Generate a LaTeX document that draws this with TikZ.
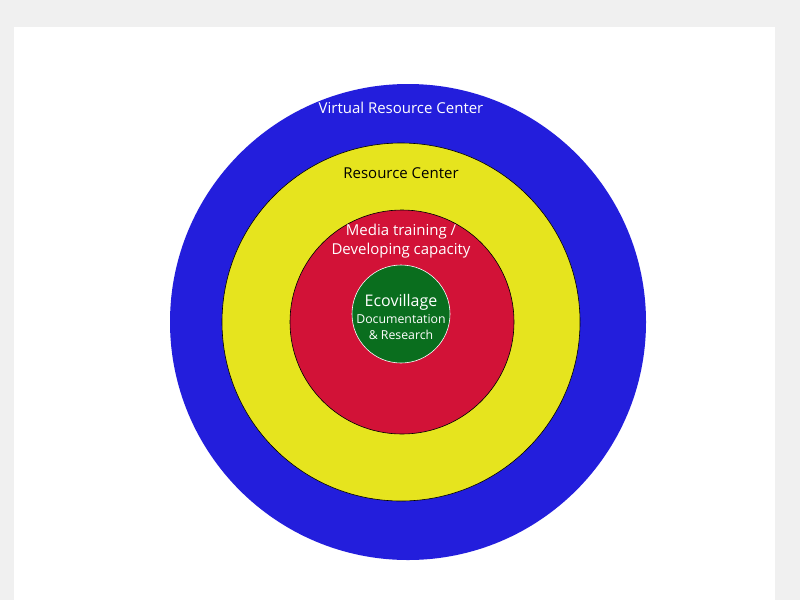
\documentclass[tikz,border=0pt]{standalone}
\usepackage{fontspec}
\setmainfont{Open Sans}
\begin{document}
\begin{tikzpicture}[x=1pt,y=-1pt,
 ring/.style={circle,draw=black,line width=0.6pt,inner sep=0pt},
 lbl/.style={text=#1,align=center,font=\fontsize{15}{19}\selectfont}]
\useasboundingbox (0,0) rectangle (800,600);
\fill[gray!12] (0,0) rectangle (800,600);
\fill[white] (14,27) rectangle (775,600);
\node[ring,fill={rgb,255:red,35;green,30;blue,220},draw=none,minimum size=476pt] (blue) at (408,322) {};
\node[ring,fill={rgb,255:red,230;green,228;blue,30},minimum size=358pt] (yellow) at (401,322) {};
\node[ring,fill={rgb,255:red,210;green,18;blue,55},minimum size=224pt] (red) at (402,322) {};
\node[ring,fill={rgb,255:red,10;green,110;blue,30},draw=white,minimum size=98pt] (green) at (401,314) {};
\node[lbl=white] (t1) at (401,108) {Virtual Resource Center};
\node[lbl=black] (t2) at (401,173) {Resource Center};
\node[lbl=white] (t3) at (401,241) {Media training /\\Developing capacity};
\node[lbl=white,font=\fontsize{16}{18}\selectfont] (t4) at (401,302) {Ecovillage};
\node[lbl=white,font=\fontsize{12.3}{16}\selectfont] (t5) at (401,327) {Documentation\\\& Research};
\end{tikzpicture}
\end{document}
